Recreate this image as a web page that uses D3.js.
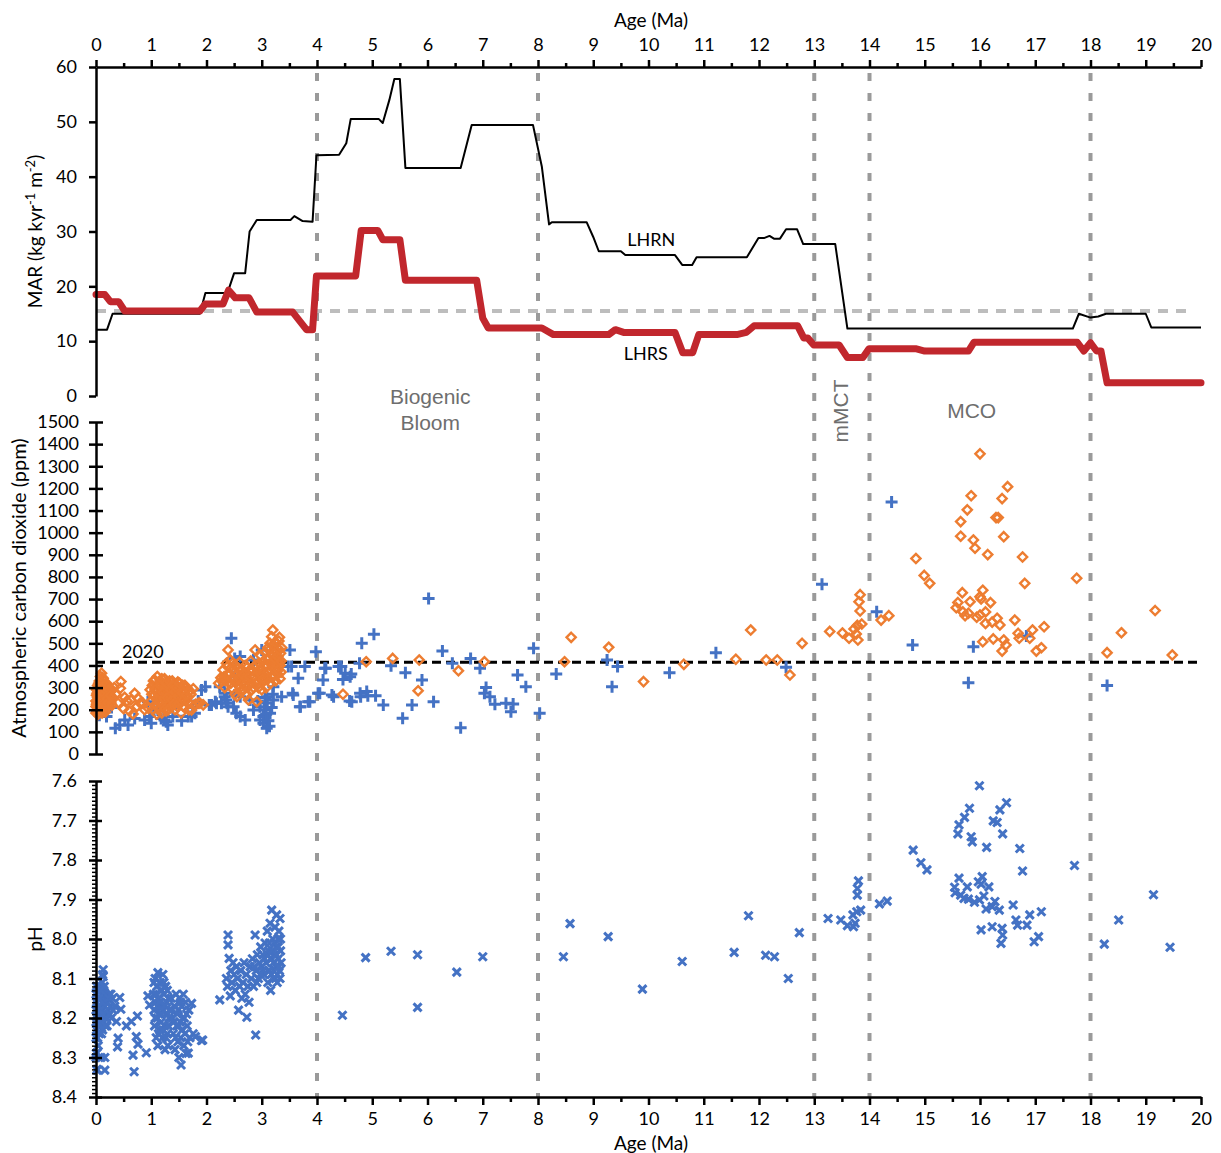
<!DOCTYPE html>
<html>
<head>
<meta charset="utf-8">
<script src="https://cdn.jsdelivr.net/npm/d3@7"></script>
<style>
  body { margin: 0; background: #fff; }
  svg { display: block; }
</style>
</head>
<body>
<svg id="chart" width="1221" height="1153"></svg>
<script>
// ---- axis ticks ----
const ageTicks = [0,1,2,3,4,5,6,7,8,9,10,11,12,13,14,15,16,17,18,19,20];
const marTicks = [0,10,20,30,40,50,60];
const co2Ticks = [0,100,200,300,400,500,600,700,800,900,1000,1100,1200,1300,1400,1500];
const phTicks = [7.6,7.7,7.8,7.9,8.0,8.1,8.2,8.3,8.4];

// ---- event boundaries (Ma) and reference levels ----
const boundaryAges = [4, 8, 13, 14, 18];
const marReference = 15.5;
const co2Modern = 414;

// ---- mass accumulation rates [age Ma, kg kyr-1 m-2] ----
const lhrn = [[0,12.1],[0.2,12.1],[0.3,15.0],[1.88,15.0],[1.98,18.8],[2.38,18.8],[2.5,22.4],[2.7,22.4],
  [2.78,30.0],[2.91,32.1],[3.52,32.1],[3.59,32.8],[3.74,31.9],[3.92,31.8],[3.99,43.9],[4.4,44.0],
  [4.53,46.1],[4.61,50.5],[5.12,50.5],[5.19,49.8],[5.31,54.0],[5.40,57.8],[5.50,57.8],[5.60,41.6],
  [6.60,41.6],[6.80,49.4],[7.91,49.4],[8.07,41.8],[8.20,31.3],[8.25,31.7],[8.88,31.7],[9.0,29.0],
  [9.1,26.4],[9.5,26.4],[9.58,25.7],[10.48,25.7],[10.61,23.9],[10.79,23.9],[10.87,25.3],[11.78,25.3],
  [11.99,28.8],[12.09,28.8],[12.19,29.2],[12.27,28.7],[12.38,28.7],[12.49,30.4],[12.69,30.4],[12.8,27.7],
  [13.38,27.7],[13.6,12.3],[17.68,12.3],[17.79,15.0],[18.0,14.3],[18.14,14.5],[18.28,15.0],[19.0,15.0],
  [19.1,12.5],[20.0,12.5]];
const lhrs = [[0,18.5],[0.16,18.5],[0.26,17.2],[0.41,17.2],[0.52,15.5],[1.88,15.5],[1.98,16.8],[2.3,16.8],
  [2.4,19.3],[2.52,17.9],[2.77,17.9],[2.91,15.3],[3.56,15.3],[3.81,12.1],[3.92,12.1],[3.99,21.9],
  [4.7,21.9],[4.8,30.2],[5.1,30.2],[5.19,28.5],[5.5,28.5],[5.6,21.1],[6.89,21.1],[7.0,14.2],[7.1,12.4],
  [8.07,12.4],[8.28,11.2],[9.28,11.2],[9.4,12.1],[9.55,11.6],[10.48,11.6],[10.62,7.9],[10.8,7.9],
  [10.91,11.2],[11.6,11.2],[11.77,11.6],[11.91,12.8],[12.7,12.8],[12.81,10.6],[12.88,10.6],[12.99,9.3],
  [13.45,9.3],[13.6,7.0],[13.88,7.0],[13.99,8.6],[14.85,8.6],[15.0,8.2],[15.79,8.2],[15.89,9.8],
  [17.76,9.8],[17.88,8.2],[18.0,9.7],[18.11,8.2],[18.19,8.2],[18.3,2.4],[20.0,2.4]];

// ---- atmospheric CO2, cross-marker record [age Ma, ppm] ----
const co2Cross = [[0.02,191],[0.06,175],[0.12,205],[0.19,169],[0.28,210],[0.35,116],[0.43,131],[0.52,154],
  [0.58,131],[0.70,160],[0.88,154],[0.94,236],[0.97,169],[1.00,139],[1.05,200],[1.12,199],[1.18,160],
  [1.24,154],[1.27,146],[1.30,131],[1.39,169],[1.45,230],[1.55,150],[1.67,169],[1.73,169],[1.75,210],
  [1.79,184],[1.85,240],[1.91,289],[1.98,304],[2.05,221],[2.09,221],[2.16,236],[2.18,229],[2.24,304],
  [2.27,229],[2.33,274],[2.33,259],[2.36,244],[2.37,229],[2.39,214],[2.45,523],[2.49,214],[2.51,432],
  [2.51,349],[2.51,267],[2.54,184],[2.61,440],[2.61,259],[2.61,169],[2.70,154],[2.79,244],[2.85,425],
  [2.85,199],[2.93,240],[2.97,214],[2.97,154],[3.00,470],[3.03,169],[3.03,139],[3.05,200],[3.06,255],
  [3.08,180],[3.09,259],[3.09,116],[3.10,230],[3.12,150],[3.14,125],[3.15,184],[3.18,210],[3.20,270],
  [3.21,244],[3.21,304],[3.36,259],[3.48,395],[3.51,470],[3.54,395],[3.56,274],[3.57,267],[3.66,342],
  [3.69,214],[3.70,214],[3.78,395],[3.84,236],[3.87,236],[3.98,462],[4.02,274],[4.05,274],[4.11,334],
  [4.14,387],[4.16,387],[4.27,267],[4.30,259],[4.39,395],[4.44,395],[4.47,337],[4.51,365],[4.59,240],
  [4.60,349],[4.62,361],[4.63,236],[4.77,410],[4.78,274],[4.79,259],[4.81,500],[4.90,282],[4.92,263],
  [5.03,541],[5.06,263],[5.20,221],[5.34,399],[5.55,161],[5.60,367],[5.72,221],[5.90,334],[6.02,703],
  [6.11,236],[6.27,465],[6.45,410],[6.60,119],[6.78,432],[6.95,387],[7.03,274],[7.06,301],[7.13,259],
  [7.22,225],[7.42,229],[7.51,191],[7.55,226],[7.63,357],[7.78,304],[7.92,478],[8.03,184],[8.33,361],
  [9.25,425],[9.34,304],[9.44,395],[10.38,367],[11.22,458],[12.49,392],[13.14,767],[14.13,643],
  [14.40,1139],[14.78,493],[15.79,322],[15.88,485],[16.84,533],[18.30,309]];

// ---- atmospheric CO2, diamond-marker record [age Ma, ppm] ----
const co2Diamond = [[0.00,185],[0.00,215],[0.00,240],[0.01,265],[0.01,290],[0.02,200],[0.02,230],[0.03,255],
  [0.03,310],[0.04,180],[0.04,280],[0.05,215],[0.05,245],[0.06,300],[0.06,330],[0.07,195],[0.07,265],
  [0.08,230],[0.08,350],[0.09,285],[0.09,210],[0.10,365],[0.10,250],[0.11,320],[0.11,185],[0.12,270],
  [0.12,225],[0.13,340],[0.13,300],[0.14,200],[0.14,255],[0.15,285],[0.16,230],[0.16,315],[0.17,190],
  [0.18,265],[0.19,240],[0.20,295],[0.21,215],[0.22,270],[0.24,250],[0.25,300],[0.27,230],[0.28,285],
  [0.30,255],[0.01,225],[0.02,275],[0.03,195],[0.05,320],[0.06,230],[0.07,305],[0.08,270],[0.09,240],
  [0.10,200],[0.11,280],[0.12,345],[0.13,215],[0.14,310],[0.15,230],[0.17,290],[0.18,215],[0.19,320],
  [0.20,250],[0.22,230],[0.23,290],[0.26,265],[0.29,220],
  [0.33,300],[0.36,270],[0.40,230],[0.44,297],[0.45,327],[0.50,205],[0.52,256],[0.56,240],
  [0.60,195],[0.63,244],[0.67,181],[0.70,274],[0.74,215],[0.76,252],[0.80,230],[0.85,229],[0.88,200],
  [0.95,206],
  [0.98,290],[1.00,240],[1.02,310],[1.03,200],[1.05,265],[1.06,335],[1.08,225],[1.09,290],[1.10,180],
  [1.11,350],[1.12,250],[1.13,310],[1.14,205],[1.15,275],[1.16,330],[1.17,230],[1.18,295],[1.19,185],
  [1.20,260],[1.21,320],[1.22,215],[1.23,285],[1.24,340],[1.25,240],[1.26,300],[1.27,195],[1.28,270],
  [1.29,325],[1.30,225],[1.31,290],[1.33,250],[1.34,310],[1.35,210],[1.36,275],[1.38,330],[1.39,235],
  [1.40,295],[1.42,260],[1.43,200],[1.44,315],[1.46,245],[1.47,285],[1.48,325],[1.50,225],[1.51,270],
  [1.52,300],[1.54,185],[1.55,250],[1.57,310],[1.58,215],[1.60,280],[1.62,240],[1.64,300],[1.66,260],
  [1.68,200],[1.70,285],[1.73,199],[1.76,295],[1.80,225],[1.85,229],[1.88,230],[1.94,222],
  [1.01,270],[1.04,330],[1.07,290],[1.09,250],[1.11,215],[1.13,270],[1.15,235],[1.17,310],[1.19,340],
  [1.21,280],[1.23,250],[1.25,205],[1.27,320],[1.29,255],[1.31,200],[1.33,330],[1.35,290],[1.37,245],
  [1.39,310],[1.41,225],[1.43,280],[1.45,300],[1.47,215],[1.49,260],[1.51,320],[1.53,240],[1.56,275],
  [1.59,245],[1.61,310],[1.63,265],[1.67,235],[1.72,270],
  [2.22,320],[2.26,345],[2.30,380],[2.33,300],[2.36,410],[2.39,470],[2.40,355],[2.43,425],[2.44,320],
  [2.46,297],[2.48,385],[2.50,340],[2.52,270],[2.53,400],[2.55,259],[2.56,360],[2.58,310],[2.60,415],
  [2.62,285],[2.63,350],[2.65,380],[2.67,289],[2.68,330],[2.70,400],[2.72,265],[2.74,360],[2.76,244],
  [2.77,310],[2.79,380],[2.80,420],[2.82,290],[2.84,345],[2.86,395],[2.88,470],[2.89,320],[2.91,236],
  [2.92,370],[2.94,300],[2.95,410],[2.97,340],[2.98,445],[3.00,290],[3.01,380],[3.03,420],[3.04,330],
  [3.06,460],[3.07,360],[3.08,300],[3.10,400],[3.11,480],[3.12,340],[3.13,430],[3.14,370],[3.15,500],
  [3.16,320],[3.17,450],[3.18,530],[3.19,390],[3.20,560],[3.21,350],[3.22,470],[3.23,420],[3.24,505],
  [3.25,330],[3.26,440],[3.27,380],[3.28,480],[3.29,360],[3.30,420],[3.31,510],[3.32,527],[3.33,400],
  [3.34,455],[3.35,370],
  [2.28,330],[2.32,350],[2.35,330],[2.38,395],[2.42,360],[2.45,340],[2.47,410],[2.51,370],[2.54,330],
  [2.57,385],[2.59,345],[2.61,300],[2.64,320],[2.66,355],[2.69,310],[2.71,345],[2.73,390],[2.75,330],
  [2.78,350],[2.81,320],[2.83,380],[2.85,300],[2.87,350],[2.90,400],[2.93,330],[2.96,380],[2.99,360],
  [3.02,340],[3.05,400],[3.09,430],[3.11,370],[3.13,470],[3.15,410],[3.17,350],[3.19,460],[3.21,490],
  [3.23,380],[3.25,460],[3.27,500],[3.29,440],[3.30,380],[3.32,470],[3.33,340],[3.35,420],[3.36,480],
  [4.47,270],[4.89,417],[5.37,432],[5.83,286],[5.85,425],[6.56,376],[7.03,417],[8.48,417],[8.60,527],
  [9.28,482],[9.91,327],[10.64,405],[11.58,428],[11.85,560],[12.13,425],[12.33,425],[12.56,357],
  [12.78,500],[13.28,554],[13.51,547],[13.63,523],[13.72,565],[13.76,542],[13.78,581],[13.79,515],
  [13.81,688],[13.83,646],[13.83,720],[13.86,587],[14.21,605],[14.35,625],[14.84,883],[14.99,807],
  [15.09,771],[15.57,661],[15.60,684],[15.65,1050],[15.65,984],[15.68,729],[15.69,642],[15.73,625],
  [15.77,1103],[15.79,636],[15.82,688],[15.84,1167],[15.88,967],[15.91,930],[15.94,618],[16.00,1356],
  [16.00,711],[16.02,700],[16.00,628],[16.05,740],[16.05,507],[16.10,642],[16.10,590],[16.14,901],
  [16.19,684],[16.22,596],[16.24,520],[16.29,1068],[16.33,1068],[16.31,613],[16.36,583],[16.40,1154],
  [16.40,465],[16.43,982],[16.43,515],[16.47,493],[16.50,1208],[16.63,605],[16.69,545],[16.71,523],
  [16.77,890],[16.81,771],[16.90,523],[16.95,560],[17.02,465],[17.11,480],[17.16,575],[17.75,794],
  [18.30,458],[18.56,548],[19.17,648],[19.48,447]];

// ---- seawater pH [age Ma, pH] ----
const ph = [[0.00,8.14],[0.00,8.18],[0.00,8.21],[0.00,8.25],[0.01,8.29],[0.01,8.16],[0.02,8.20],[0.02,8.23],
  [0.02,8.33],[0.03,8.15],[0.03,8.19],[0.04,8.22],[0.04,8.27],[0.05,8.13],[0.05,8.17],[0.06,8.21],
  [0.06,8.24],[0.07,8.15],[0.07,8.19],[0.08,8.12],[0.08,8.22],[0.09,8.17],[0.09,8.30],[0.10,8.14],
  [0.10,8.20],[0.11,8.11],[0.11,8.18],[0.12,8.09],[0.12,8.23],[0.13,8.078],[0.13,8.095],[0.13,8.16],
  [0.14,8.19],[0.14,8.13],[0.15,8.21],[0.15,8.15],[0.16,8.17],[0.16,8.30],[0.16,8.332],[0.17,8.14],
  [0.18,8.19],[0.19,8.16],[0.20,8.22],[0.21,8.15],[0.22,8.18],[0.24,8.14],[0.26,8.17],[0.28,8.20],
  [0.30,8.15],[0.01,8.289],[0.02,8.332],
  [0.00,8.30],[0.01,8.12],[0.01,8.23],[0.03,8.25],[0.04,8.17],[0.05,8.20],[0.06,8.15],[0.07,8.22],
  [0.08,8.18],[0.09,8.13],[0.10,8.24],[0.11,8.21],[0.12,8.16],[0.13,8.19],[0.15,8.12],[0.17,8.22],
  [0.19,8.20],[0.23,8.15],[0.25,8.19],[0.27,8.14],[0.31,8.18],[0.34,8.17],
  [0.37,8.209],[0.39,8.273],[0.40,8.251],[0.43,8.148],[0.45,8.178],[0.55,8.22],[0.64,8.209],[0.67,8.294],
  [0.69,8.336],[0.73,8.247],[0.75,8.195],[0.76,8.266],[0.91,8.288],[0.94,8.144],[0.97,8.167],
  [1.04,8.14],[1.05,8.18],[1.06,8.22],[1.07,8.10],[1.08,8.16],[1.09,8.25],[1.10,8.12],[1.11,8.20],
  [1.12,8.085],[1.12,8.27],[1.13,8.15],[1.14,8.19],[1.15,8.23],[1.16,8.11],[1.17,8.17],[1.18,8.21],
  [1.19,8.13],[1.20,8.25],[1.21,8.09],[1.22,8.18],[1.23,8.14],[1.24,8.22],[1.25,8.28],[1.26,8.12],
  [1.27,8.19],[1.28,8.16],[1.29,8.24],[1.30,8.27],[1.31,8.15],[1.32,8.20],
  [1.05,8.11],[1.07,8.20],[1.09,8.14],[1.11,8.17],[1.13,8.24],[1.15,8.16],[1.17,8.13],[1.19,8.19],
  [1.21,8.23],[1.23,8.11],[1.25,8.17],[1.27,8.25],[1.29,8.13],[1.31,8.22],[1.33,8.18],
  [1.36,8.15],[1.38,8.20],[1.40,8.24],[1.42,8.17],[1.43,8.28],[1.45,8.14],[1.46,8.22],[1.48,8.26],
  [1.49,8.18],[1.50,8.30],[1.51,8.15],[1.52,8.21],[1.53,8.25],[1.54,8.319],[1.55,8.17],[1.56,8.23],
  [1.58,8.14],[1.59,8.27],[1.60,8.20],[1.62,8.16],[1.63,8.29],[1.65,8.22],[1.67,8.289],[1.68,8.18],
  [1.70,8.25],[1.73,8.163],[1.76,8.24],[1.80,8.247],[1.91,8.257],[1.93,8.256],
  [1.37,8.18],[1.41,8.21],[1.44,8.25],[1.47,8.19],[1.50,8.22],[1.53,8.16],[1.57,8.20],[1.61,8.24],
  [1.64,8.19],[1.66,8.26],
  [2.24,8.154],[2.36,8.10],[2.38,8.12],[2.39,7.99],[2.39,8.015],[2.41,8.049],[2.43,8.144],[2.44,8.08],
  [2.46,8.11],[2.48,8.06],[2.50,8.09],[2.52,8.13],[2.54,8.07],[2.56,8.10],[2.58,8.18],[2.60,8.12],
  [2.62,8.08],[2.64,8.15],[2.66,8.11],[2.68,8.06],[2.70,8.14],[2.72,8.09],[2.73,8.198],[2.75,8.12],
  [2.77,8.16],[2.79,8.07],[2.81,8.10],[2.83,8.05],[2.85,8.12],[2.88,7.99],[2.89,8.243],[2.90,8.08],
  [2.92,8.04],[2.94,8.10],[2.96,8.06],[2.98,8.02],[3.00,8.07],[3.02,8.04],[3.04,8.09],[3.06,8.01],
  [3.08,8.06],[3.10,7.98],[3.11,8.11],[3.12,8.03],[3.14,8.08],[3.15,7.96],[3.16,8.13],[3.18,7.927],
  [3.18,8.05],[3.20,8.00],[3.21,8.10],[3.22,8.04],[3.24,7.97],[3.25,8.07],[3.26,8.02],[3.27,7.939],
  [3.28,8.09],[3.29,8.00],[3.30,8.05],[3.31,7.98],[3.32,8.08],[3.33,7.948],[3.34,8.03],[3.35,8.06],
  [3.10,8.04],[3.12,8.08],[3.14,8.01],[3.16,8.05],[3.17,8.09],[3.19,8.03],[3.21,8.06],[3.23,8.01],
  [3.25,8.10],[3.27,8.04],[3.28,8.11],[3.30,8.02],[3.31,8.07],[3.33,8.10],[3.34,8.00],[3.02,8.08],
  [3.05,8.05],[2.97,8.09],[2.91,8.11],[2.87,8.07],
  [4.46,8.193],[4.88,8.047],[5.34,8.031],[5.82,8.040],[5.82,8.173],[6.53,8.084],[7.00,8.045],[8.46,8.045],
  [8.58,7.961],[9.27,7.994],[9.89,8.127],[10.61,8.057],[11.55,8.034],[11.81,7.941],[12.12,8.041],
  [12.28,8.045],[12.53,8.100],[12.73,7.984],[13.25,7.948],[13.48,7.952],[13.60,7.966],[13.71,7.969],
  [13.74,7.960],[13.70,7.939],[13.77,7.931],[13.84,7.927],[13.78,7.889],[13.78,7.872],[13.80,7.853],
  [14.18,7.911],[14.32,7.904],[14.79,7.775],[14.93,7.807],[15.04,7.825],[15.99,7.612],[15.81,7.669],
  [15.72,7.692],[15.62,7.711],[15.60,7.734],[15.84,7.741],[15.86,7.754],[16.12,7.768],[16.48,7.655],
  [16.36,7.673],[16.24,7.701],[16.31,7.705],[16.41,7.734],[16.72,7.771],[16.77,7.828],[17.71,7.814],
  [19.14,7.888],[18.51,7.952],[18.25,8.013],[19.44,8.021],
  [15.62,7.846],[16.04,7.842],[15.97,7.855],[16.02,7.861],[15.77,7.868],[16.16,7.868],[15.54,7.869],
  [15.55,7.883],[15.65,7.889],[15.71,7.897],[15.79,7.899],[15.90,7.907],[15.99,7.901],[16.07,7.891],
  [16.11,7.924],[16.22,7.918],[16.27,7.905],[16.35,7.927],[16.60,7.914],[16.02,7.977],[16.22,7.969],
  [16.40,7.973],[16.41,7.990],[16.38,8.011],[16.65,7.952],[16.68,7.965],[16.85,7.965],[16.90,7.939],
  [17.11,7.931],[17.06,7.994],[16.98,8.007]];

// ---- layout ----
const svg = d3.select("#chart");
svg.append("rect").attr("width", 1221).attr("height", 1153).attr("fill", "#fff");

const x = d3.scaleLinear().domain([0, 20]).range([96, 1201]);
const yMar = d3.scaleLinear().domain([0, 60]).range([396, 67]);
const yCo2 = d3.scaleLinear().domain([0, 1500]).range([754, 422]);
const yPh = d3.scaleLinear().domain([7.6, 8.4]).range([781, 1097]);

const tickFont = "Lato, 'Liberation Sans', sans-serif";
const BLUE = "#4472c4", ORANGE = "#ed7d31", RED = "#c1272d";

// boundary guides across all panels
svg.append("g").selectAll("line").data(boundaryAges).join("line")
  .attr("x1", d => x(d)).attr("x2", d => x(d))
  .attr("y1", yMar(60) + 6).attr("y2", yPh(8.4))
  .attr("stroke", "#9a9a9a").attr("stroke-width", 4)
  .attr("stroke-dasharray", "8 12");

// MAR reference level
svg.append("line")
  .attr("x1", x(0)).attr("x2", x(19.75))
  .attr("y1", yMar(marReference)).attr("y2", yMar(marReference))
  .attr("stroke", "#bdbdbd").attr("stroke-width", 4).attr("stroke-dasharray", "10 8");

// MAR records
const marLine = d3.line().x(d => x(d[0])).y(d => yMar(d[1]));
svg.append("path").datum(lhrn).attr("d", marLine)
  .attr("fill", "none").attr("stroke", "#000").attr("stroke-width", 2)
  .attr("stroke-linejoin", "round");
svg.append("path").datum(lhrs).attr("d", marLine)
  .attr("fill", "none").attr("stroke", RED).attr("stroke-width", 7)
  .attr("stroke-linejoin", "round").attr("stroke-linecap", "round");

svg.append("text").attr("x", x(10.05)).attr("y", yMar(27.3))
  .attr("font-family", tickFont).attr("font-size", 18).attr("text-anchor", "middle")
  .text("LHRN");
svg.append("text").attr("x", x(9.95)).attr("y", yMar(6.6))
  .attr("font-family", tickFont).attr("font-size", 18).attr("text-anchor", "middle")
  .text("LHRS");

// period labels
const noteStyle = s => s.attr("font-family", "'Liberation Sans', Arial, sans-serif")
  .attr("font-size", 21).attr("fill", "#6e6e6e").attr("text-anchor", "middle");
svg.append("text").attr("x", x(6.05)).attr("y", 404).text("Biogenic").call(noteStyle);
svg.append("text").attr("x", x(6.05)).attr("y", 430).text("Bloom").call(noteStyle);
svg.append("text").attr("x", x(15.85)).attr("y", 418).text("MCO").call(noteStyle);
svg.append("text").attr("transform", `translate(${x(13.48) + 7},411) rotate(-90)`)
  .text("mMCT").call(noteStyle);

// modern CO2 level
svg.append("line")
  .attr("x1", x(0)).attr("x2", x(20))
  .attr("y1", yCo2(co2Modern)).attr("y2", yCo2(co2Modern))
  .attr("stroke", "#000").attr("stroke-width", 3).attr("stroke-dasharray", "9 5");
svg.append("text").attr("x", x(0.47)).attr("y", yCo2(co2Modern) - 4)
  .attr("font-family", tickFont).attr("font-size", 18).text("2020");

// CO2 markers
svg.append("g").selectAll("path").data(co2Cross).join("path")
  .attr("transform", d => `translate(${x(d[0])},${yCo2(d[1])})`)
  .attr("d", "M-6,0H6M0,-6V6")
  .attr("stroke", BLUE).attr("stroke-width", 3).attr("fill", "none");
svg.append("g").selectAll("path").data(co2Diamond).join("path")
  .attr("transform", d => `translate(${x(d[0])},${yCo2(d[1])})`)
  .attr("d", "M0,-4.6L4.6,0L0,4.6L-4.6,0Z")
  .attr("stroke", ORANGE).attr("stroke-width", 2.4).attr("fill", "none");

// pH markers
svg.append("g").selectAll("path").data(ph).join("path")
  .attr("transform", d => `translate(${x(d[0])},${yPh(d[1])})`)
  .attr("d", "M-4,-4L4,4M-4,4L4,-4")
  .attr("stroke", BLUE).attr("stroke-width", 3).attr("fill", "none");

// ---- axes ----
function styleAxis(g) {
  g.select(".domain").attr("stroke", "#000").attr("stroke-width", 2.5);
  g.selectAll(".tick line").attr("stroke", "#000").attr("stroke-width", 2.5);
  g.selectAll(".tick text").attr("font-family", tickFont).attr("font-size", 18).attr("fill", "#000");
}
const halfTicks = ageTicks.slice(0, -1).map(d => d + 0.5);

// top age axis
svg.append("g").attr("transform", `translate(0,${yMar(60)})`)
  .call(d3.axisTop(x).tickValues(halfTicks).tickSize(4).tickFormat(""))
  .call(g => { g.select(".domain").remove(); g.selectAll(".tick line").attr("stroke", "#000").attr("stroke-width", 2.5); });
svg.append("g").attr("transform", `translate(0,${yMar(60)})`)
  .call(d3.axisTop(x).tickValues(ageTicks).tickSize(7).tickSizeOuter(0).tickPadding(9).tickFormat(d3.format("d")))
  .call(styleAxis);
svg.append("text").attr("x", 651).attr("y", 27).attr("text-anchor", "middle")
  .attr("font-family", tickFont).attr("font-size", 19).text("Age (Ma)");

// bottom age axis
svg.append("g").attr("transform", `translate(0,${yPh(8.4)})`)
  .call(d3.axisBottom(x).tickValues(halfTicks).tickSize(5).tickFormat(""))
  .call(g => { g.select(".domain").remove(); g.selectAll(".tick line").attr("stroke", "#000").attr("stroke-width", 2.5); });
svg.append("g").attr("transform", `translate(0,${yPh(8.4)})`)
  .call(d3.axisBottom(x).tickValues(ageTicks).tickSize(8).tickSizeOuter(0).tickPadding(7).tickFormat(d3.format("d")))
  .call(styleAxis);
svg.append("text").attr("x", 651).attr("y", 1150).attr("text-anchor", "middle")
  .attr("font-family", tickFont).attr("font-size", 19).text("Age (Ma)");

// MAR axis
svg.append("g").attr("transform", `translate(${x(0)},0)`)
  .call(d3.axisLeft(yMar).tickValues(marTicks).tickSize(7).tickSizeOuter(0).tickPadding(12))
  .call(styleAxis);
const marTitle = svg.append("text").attr("transform", `translate(42,${yMar(30)}) rotate(-90)`)
  .attr("text-anchor", "middle").attr("font-family", tickFont).attr("font-size", 19);
marTitle.append("tspan").text("MAR (kg kyr");
marTitle.append("tspan").attr("dy", -7).attr("font-size", 13).text("-1");
marTitle.append("tspan").attr("dy", 7).text(" m");
marTitle.append("tspan").attr("dy", -7).attr("font-size", 13).text("-2");
marTitle.append("tspan").attr("dy", 7).text(")");

// CO2 axis
svg.append("g").attr("transform", `translate(${x(0)},0)`)
  .call(d3.axisLeft(yCo2).tickValues(co2Ticks).tickSize(7).tickSizeOuter(0).tickPadding(10).tickFormat(d3.format("d")))
  .call(styleAxis)
  .call(g => g.selectAll(".tick line").attr("x2", -7).attr("x1", 7));
svg.append("text").attr("transform", `translate(26,${yCo2(750)}) rotate(-90)`)
  .attr("text-anchor", "middle").attr("font-family", tickFont).attr("font-size", 20)
  .text("Atmospheric carbon dioxide (ppm)");

// pH axis
const phMinor = d3.range(761, 840).map(d => d / 100);
svg.append("g").attr("transform", `translate(${x(0)},0)`)
  .call(d3.axisLeft(yPh).tickValues(phMinor).tickSize(4).tickFormat(""))
  .call(g => { g.select(".domain").remove(); g.selectAll(".tick line").attr("stroke", "#000").attr("stroke-width", 1.5); });
svg.append("g").attr("transform", `translate(${x(0)},0)`)
  .call(d3.axisLeft(yPh).tickValues(phTicks).tickSize(7).tickSizeOuter(0).tickPadding(12).tickFormat(d3.format(".1f")))
  .call(styleAxis)
  .call(g => g.selectAll(".tick line").attr("x2", -7).attr("x1", 6));
svg.append("text").attr("transform", `translate(42,${yPh(8.0)}) rotate(-90)`)
  .attr("text-anchor", "middle").attr("font-family", tickFont).attr("font-size", 19)
  .text("pH");
</script>
</body>
</html>
